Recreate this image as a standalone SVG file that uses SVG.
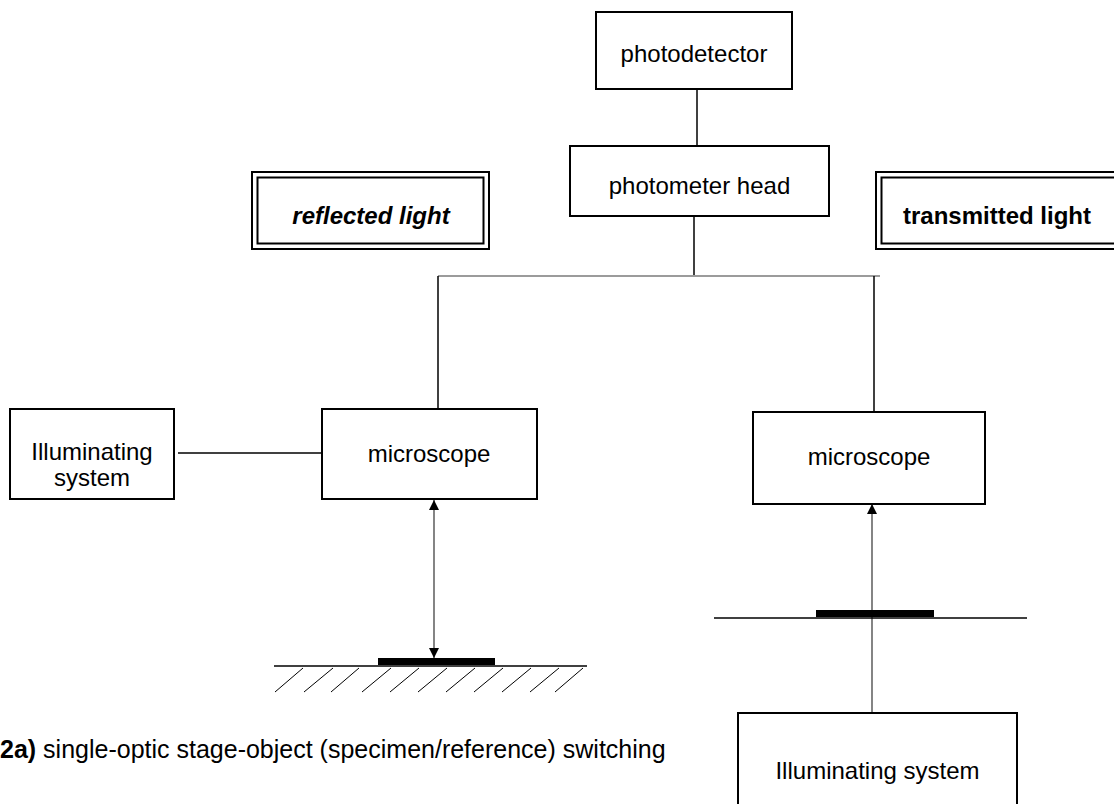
<svg xmlns="http://www.w3.org/2000/svg" width="1114" height="804" viewBox="0 0 1114 804">
<style>
.box{fill:#fff;stroke:#000;stroke-width:2}
.dbl{fill:none;stroke:#000;stroke-width:2}
.t{font-family:"Liberation Sans",Arial,sans-serif;font-size:24px;fill:#000;text-anchor:middle}
.cap{font-family:"Liberation Sans",Arial,sans-serif;font-size:25px;fill:#000}
.c{stroke:#000;stroke-width:1.5;fill:none}
.g{stroke:#7a7a7a;stroke-width:1.5;fill:none}
.a{stroke:#333;stroke-width:1.2;fill:none}
.h{stroke:#000;stroke-width:1;fill:none}
</style>
<defs>
<marker id="arr" viewBox="0 0 10 10" refX="10" refY="5" markerWidth="11" markerHeight="10" markerUnits="userSpaceOnUse" orient="auto">
<path d="M0,0 L10,5 L0,10 z" fill="#000"/>
</marker>
</defs>
<rect width="1114" height="804" fill="#fff"/>

<g id="connectors">
<line class="c" x1="697" y1="89" x2="697" y2="146"/>
<line class="c" x1="694" y1="216" x2="694" y2="275"/>
<line class="g" x1="438" y1="276" x2="880" y2="276"/>
<line class="c" x1="438" y1="276" x2="438" y2="409"/>
<line class="c" x1="874" y1="276" x2="874" y2="412"/>
<line class="c" x1="178" y1="453" x2="322" y2="453"/>
<line class="a" x1="434" y1="580" x2="434" y2="500" marker-end="url(#arr)"/>
<line class="a" x1="434" y1="580" x2="434" y2="658" marker-end="url(#arr)"/>
<line class="a" x1="872" y1="713" x2="872" y2="504" marker-end="url(#arr)"/>
</g>

<g id="reflected-stage">
<rect x="378" y="658" width="117" height="7" fill="#000"/>
<line class="c" x1="274" y1="666" x2="587" y2="666"/>
<g class="h">
<line x1="275" y1="692" x2="303" y2="668"/>
<line x1="304" y1="692" x2="333" y2="668"/>
<line x1="331" y1="692" x2="359" y2="668"/>
<line x1="362" y1="692" x2="391" y2="668"/>
<line x1="390" y1="692" x2="419" y2="668"/>
<line x1="418" y1="692" x2="447" y2="668"/>
<line x1="446" y1="692" x2="475" y2="668"/>
<line x1="474" y1="692" x2="503" y2="668"/>
<line x1="502" y1="692" x2="531" y2="668"/>
<line x1="530" y1="692" x2="559" y2="668"/>
<line x1="555" y1="692" x2="583" y2="668"/>
</g>
</g>

<g id="transmitted-stage">
<line class="c" x1="714" y1="618" x2="1027" y2="618"/>
<rect x="816" y="610" width="118" height="7" fill="#000"/>
</g>

<g id="photodetector">
<rect class="box" x="596" y="12" width="196" height="77"/>
<text class="t" x="694" y="62">photodetector</text>
</g>

<g id="photometer-head">
<rect class="box" x="570" y="146" width="259" height="70"/>
<text class="t" x="699.5" y="194">photometer head</text>
</g>

<g id="reflected-light">
<rect class="dbl" x="252" y="172" width="237" height="77"/>
<rect class="dbl" x="257.5" y="177.5" width="226" height="66"/>
<text class="t" x="371" y="224" font-weight="bold" font-style="italic">reflected light</text>
</g>

<g id="transmitted-light">
<rect class="dbl" x="876" y="172" width="250" height="77"/>
<rect class="dbl" x="881.5" y="177.5" width="240" height="66"/>
<text class="t" x="997" y="224" font-weight="bold">transmitted light</text>
</g>

<g id="illuminating-left">
<rect class="box" x="10" y="409" width="164" height="90"/>
<text class="t" x="92" y="460">Illuminating</text>
<text class="t" x="92" y="486">system</text>
</g>

<g id="microscope-left">
<rect class="box" x="322" y="409" width="215" height="90"/>
<text class="t" x="429" y="462">microscope</text>
</g>

<g id="microscope-right">
<rect class="box" x="753" y="412" width="232" height="92"/>
<text class="t" x="869" y="465">microscope</text>
</g>

<g id="illuminating-right">
<rect class="box" x="738" y="713" width="279" height="110"/>
<text class="t" x="877.5" y="779">Illuminating system</text>
</g>

<g id="caption">
<text class="cap" x="0" y="758"><tspan font-weight="bold">2a)</tspan> single-optic stage-object (specimen/reference) switching</text>
</g>
</svg>
